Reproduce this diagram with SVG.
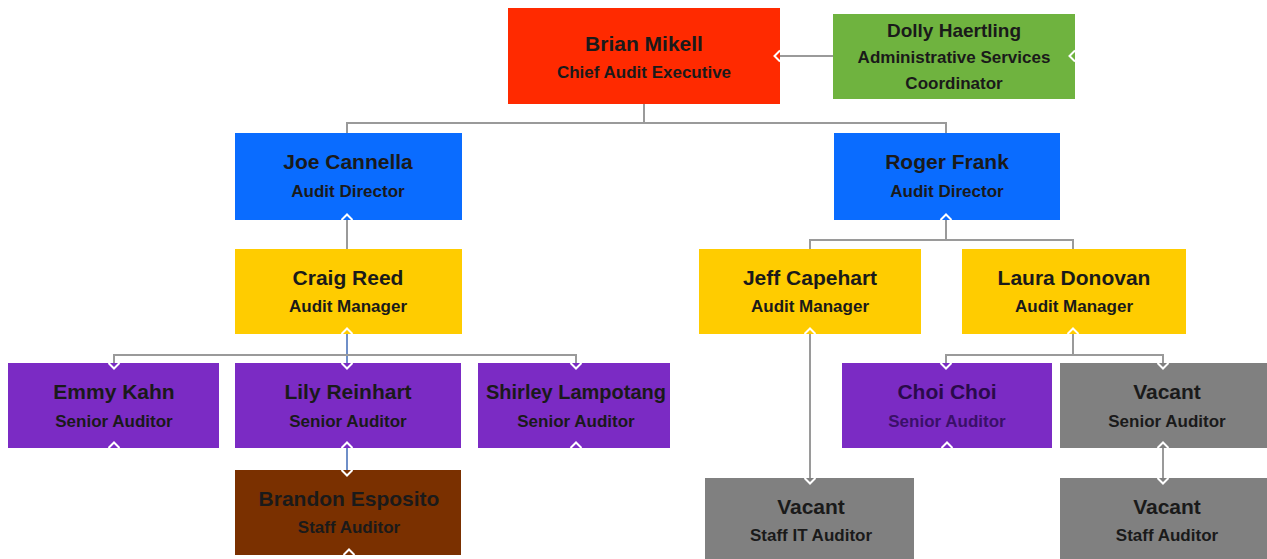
<svg xmlns="http://www.w3.org/2000/svg" width="1267" height="559" viewBox="0 0 1267 559">
<style>
.name{font-family:"Liberation Sans",Arial,sans-serif;font-weight:bold;font-size:21px;fill:#1a1a1a;text-anchor:middle}
.title{font-family:"Liberation Sans",Arial,sans-serif;font-weight:bold;font-size:17px;fill:#1a1a1a;text-anchor:middle}
.red{fill:#FF2A00}.green{fill:#6FB33F}.blue{fill:#0A6CFF}.yellow{fill:#FFCC00}.purple{fill:#7B2BC4}.gray{fill:#808080}.brown{fill:#7A3000}
.c{fill:none;stroke:#9a9a9a;stroke-width:2}
.cb{fill:none;stroke:#6f8fc8;stroke-width:2}
.stub{fill:none;stroke:none}
</style>
<defs>
<marker id="chev" viewBox="-8 -8 16 16" markerWidth="16" markerHeight="16" markerUnits="userSpaceOnUse" orient="auto">
<path d="M0,-5.5 L5.5,0 L0,5.5" fill="none" stroke="#ffffff" stroke-width="2"/>
</marker>
<marker id="chevs" viewBox="-8 -8 16 16" markerWidth="16" markerHeight="16" markerUnits="userSpaceOnUse" orient="auto">
<path d="M0,-5.5 L-5.5,0 L0,5.5" fill="none" stroke="#ffffff" stroke-width="2"/>
</marker>
</defs>
<rect width="1267" height="559" fill="#ffffff"/>
<g id="brian"><rect class="red" x="508" y="8" width="272" height="96"/><text class="name" x="644" y="51">Brian Mikell</text><text class="title" x="644" y="78">Chief Audit Executive</text></g>
<g id="dolly"><rect class="green" x="833" y="14" width="242" height="85"/><text class="name" x="954" y="37" style="font-size:19px">Dolly Haertling</text><text class="title" x="954" y="63">Administrative Services</text><text class="title" x="954" y="89">Coordinator</text></g>
<g id="joe"><rect class="blue" x="235" y="133" width="227" height="87"/><text class="name" x="348" y="169">Joe Cannella</text><text class="title" x="348" y="197">Audit Director</text></g>
<g id="roger"><rect class="blue" x="834" y="133" width="226" height="87"/><text class="name" x="947" y="169">Roger Frank</text><text class="title" x="947" y="197">Audit Director</text></g>
<g id="craig"><rect class="yellow" x="235" y="249" width="227" height="85"/><text class="name" x="348" y="285">Craig Reed</text><text class="title" x="348" y="312">Audit Manager</text></g>
<g id="jeff"><rect class="yellow" x="699" y="249" width="222" height="85"/><text class="name" x="810" y="285">Jeff Capehart</text><text class="title" x="810" y="312">Audit Manager</text></g>
<g id="laura"><rect class="yellow" x="962" y="249" width="224" height="85"/><text class="name" x="1074" y="285">Laura Donovan</text><text class="title" x="1074" y="312">Audit Manager</text></g>
<g id="emmy"><rect class="purple" x="8" y="363" width="211" height="85"/><text class="name" x="114" y="399">Emmy Kahn</text><text class="title" x="114" y="427">Senior Auditor</text></g>
<g id="lily"><rect class="purple" x="235" y="363" width="226" height="85"/><text class="name" x="348" y="399">Lily Reinhart</text><text class="title" x="348" y="427">Senior Auditor</text></g>
<g id="shirley"><rect class="purple" x="478" y="363" width="192" height="85"/><text class="name" x="576" y="399" style="font-size:20px">Shirley Lampotang</text><text class="title" x="576" y="427">Senior Auditor</text></g>
<g id="choi"><rect class="purple" x="842" y="363" width="210" height="85"/><text class="name" x="947" y="399" style="fill:#2a0a4a">Choi Choi</text><text class="title" x="947" y="427" style="fill:#3a1068">Senior Auditor</text></g>
<g id="vacant-senior"><rect class="gray" x="1060" y="363" width="207" height="85"/><text class="name" x="1167" y="399">Vacant</text><text class="title" x="1167" y="427">Senior Auditor</text></g>
<g id="brandon"><rect class="brown" x="235" y="470" width="226" height="85"/><text class="name" x="349" y="506">Brandon Esposito</text><text class="title" x="349" y="533">Staff Auditor</text></g>
<g id="vacant-it"><rect class="gray" x="705" y="478" width="209" height="81"/><text class="name" x="811" y="514">Vacant</text><text class="title" x="811" y="541">Staff IT Auditor</text></g>
<g id="vacant-staff"><rect class="gray" x="1060" y="478" width="207" height="81"/><text class="name" x="1167" y="514">Vacant</text><text class="title" x="1167" y="541">Staff Auditor</text></g>
<g id="connectors">
<path class="c" d="M644,104 V123 H347 V133"/>
<path class="c" d="M644,123 H946 V133"/>
<path class="c" d="M833,56 H780" marker-end="url(#chev)"/>
<path class="stub" d="M1075,56 H1080" marker-start="url(#chevs)"/>
<path class="c" d="M347,220 V249" marker-start="url(#chevs)"/>
<path class="cb" d="M347,334 V363" marker-start="url(#chevs)" marker-end="url(#chev)"/>
<path class="c" d="M347,355 H114 V363" marker-end="url(#chev)"/>
<path class="c" d="M347,355 H576 V363" marker-end="url(#chev)"/>
<path class="stub" d="M114,448 V452" marker-start="url(#chevs)"/>
<path class="stub" d="M576,448 V452" marker-start="url(#chevs)"/>
<path class="cb" d="M347,448 V470" marker-start="url(#chevs)" marker-end="url(#chev)"/>
<path class="stub" d="M349,555 V559" marker-start="url(#chevs)"/>
<path class="c" d="M946,220 V240 H810 V249" marker-start="url(#chevs)"/>
<path class="c" d="M946,240 H1073 V249"/>
<path class="c" d="M810,334 V478" marker-start="url(#chevs)" marker-end="url(#chev)"/>
<path class="c" d="M1073,334 V355 H946 V363" marker-start="url(#chevs)" marker-end="url(#chev)"/>
<path class="c" d="M1073,355 H1163 V363" marker-end="url(#chev)"/>
<path class="stub" d="M947,448 V452" marker-start="url(#chevs)"/>
<path class="c" d="M1163,448 V478" marker-start="url(#chevs)" marker-end="url(#chev)"/>
</g>
</svg>
